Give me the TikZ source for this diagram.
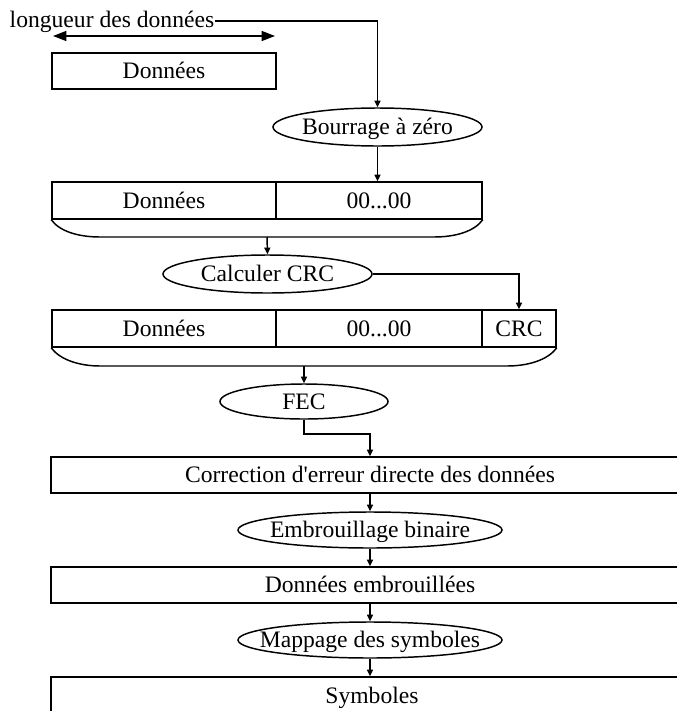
\documentclass[tikz,border=0pt]{standalone}
\usepackage{fontspec}
\setmainfont{Liberation Serif}
\usetikzlibrary{arrows.meta,shapes.geometric}

\begin{document}
\begin{tikzpicture}[x=0.75pt,y=-0.75pt,line width=1.1pt,
  font=\fontsize{17.7}{20}\selectfont,
  txt/.style={inner sep=0pt,text height=11.7pt,text depth=0pt},
  cell/.style={txt,draw,rectangle},
  oval/.style={txt,draw,ellipse,inner xsep=-60pt,inner ysep=-10pt},
  flow/.style={-{Triangle[length=5pt,width=4.5pt]}},
  span/.style={{Triangle[length=10pt,width=7.5pt]}-{Triangle[length=10pt,width=7.5pt]}},
]
\useasboundingbox (0,0) rectangle (677,711);
\clip (0,0) rectangle (677,711);

% data length and the raw data block
\node[inner sep=0pt,anchor=base west] (lbl) at (9,27) {longueur des données};
\coordinate (la) at (53,36);
\coordinate (lb) at (275,36);
\draw[span] (la) -- (lb);
\node[cell,minimum width=168pt,minimum height=27pt] (b1) at (164,71) {Données};

% zero padding
\node[oval,minimum width=156.75pt,minimum height=28.5pt] (e1) at (377.5,127) {Bourrage à zéro};
\node[cell,minimum width=168pt,minimum height=27.75pt] (b2l) at (164,200.5) {Données};
\node[cell,minimum width=154.5pt,minimum height=27.75pt] (b2r) at (379,200.5) {00...00};
\draw (b2l.south west) .. controls (60,232) and (80,237) .. (100,237)
  -- (434,237) .. controls (454,237) and (474,232) .. (b2r.south east);
\coordinate (br2) at (267,237);

% CRC computation
\node[oval,minimum width=156.75pt,minimum height=28.5pt] (e2) at (267.5,274) {Calculer CRC};
\node[cell,minimum width=168pt,minimum height=27.75pt] (b3l) at (164,328.5) {Données};
\node[cell,minimum width=154.5pt,minimum height=27.75pt] (b3m) at (379,328.5) {00...00};
\node[cell,minimum width=55.5pt,minimum height=27.75pt] (b3r) at (519,328.5) {CRC};
\draw (b3l.south west) .. controls (60,360) and (80,366) .. (100,366)
  -- (507,366) .. controls (528,366) and (548,360) .. (b3r.south east);
\coordinate (br3) at (304,366);

% FEC, scrambling and mapping
\node[oval,minimum width=126pt,minimum height=26.25pt] (e3) at (304,401.5) {FEC};
\node[cell,minimum width=486.75pt,minimum height=27pt] (b4) at (375.5,475) {};
\node[txt] (t4) at (370,475) {Correction d\textquotesingle erreur directe des données};
\node[oval,minimum width=198pt,minimum height=27pt] (e4) at (370,530) {Embrouillage binaire};
\node[cell,minimum width=486.75pt,minimum height=27pt] (b5) at (375.5,585) {};
\node[txt] (t5) at (370,585) {Données embrouillées};
\node[oval,minimum width=198pt,minimum height=27pt] (e5) at (370,640) {Mappage des symboles};
\node[cell,minimum width=486.75pt,minimum height=27pt] (b6) at (375.5,695) {};
\node[txt] (t6) at (372,695.5) {Symboles};

% connectors
\draw[flow] (lbl.base east) ++(0,-6) -| (e1.north);
\draw[flow] (e1.south) -- (e1.south |- b2r.north);
\draw[flow] (br2) -- (e2.north);
\draw[flow] (e2.east) -| (b3r.north);
\draw[flow] (br3) -- (e3.north);
\coordinate (k) at (370,434);
\draw[flow] (e3.south) |- (k) -- (k |- b4.north);
\draw[flow] (t4 |- b4.south) -- (e4.north);
\draw[flow] (e4.south) -- (e4.south |- b5.north);
\draw[flow] (t5 |- b5.south) -- (e5.north);
\draw[flow] (e5.south) -- (e5.south |- b6.north);
\end{tikzpicture}
\end{document}
